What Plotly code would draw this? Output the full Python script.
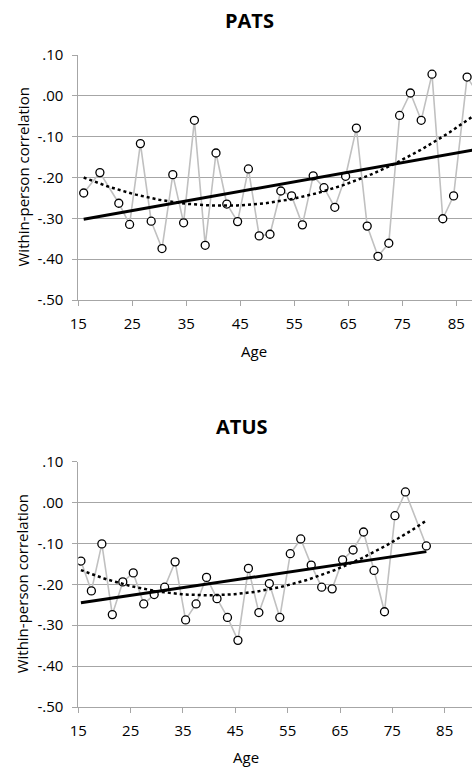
import numpy as np
import plotly.graph_objects as go

# ---------------- data ----------------
pats_age = [16, 19, 22.5, 24.5, 26.5, 28.5, 30.5, 32.5, 34.5, 36.5, 38.5, 40.5, 42.5, 44.5,
            46.5, 48.5, 50.5, 52.5, 54.5, 56.5, 58.5, 60.5, 62.5, 64.5, 66.5, 68.5, 70.5,
            72.5, 74.5, 76.5, 78.5, 80.5, 82.5, 84.5, 87, 89]
pats_r = [-0.238, -0.188, -0.263, -0.315, -0.117, -0.307, -0.374, -0.193, -0.311, -0.060,
          -0.366, -0.140, -0.265, -0.308, -0.179, -0.343, -0.339, -0.233, -0.245, -0.316,
          -0.196, -0.225, -0.273, -0.197, -0.079, -0.319, -0.393, -0.361, -0.048, 0.007,
          -0.060, 0.053, -0.301, -0.245, 0.046, 0.005]

atus_age = [15.5, 17.5, 19.5, 21.5, 23.5, 25.5, 27.5, 29.5, 31.5, 33.5, 35.5, 37.5, 39.5,
            41.5, 43.5, 45.5, 47.5, 49.5, 51.5, 53.5, 55.5, 57.5, 59.5, 61.5, 63.5, 65.5,
            67.5, 69.5, 71.5, 73.5, 75.5, 77.5, 81.5]
atus_r = [-0.143, -0.216, -0.101, -0.274, -0.194, -0.172, -0.248, -0.225, -0.207, -0.145,
          -0.287, -0.248, -0.183, -0.235, -0.281, -0.337, -0.161, -0.269, -0.198, -0.281,
          -0.125, -0.089, -0.153, -0.207, -0.211, -0.140, -0.116, -0.072, -0.166, -0.267,
          -0.032, 0.026, -0.106]

# trend lines
pats_lin_age = [16, 88]
pats_lin_r = [-0.302, -0.133]
pats_quad_age = [16, 25.5, 43, 54.5, 64.5, 74.5, 88]
pats_quad_r = [-0.200, -0.240, -0.272, -0.254, -0.215, -0.157, -0.053]

atus_lin_age = [15.5, 81.5]
atus_lin_r = [-0.245, -0.120]
atus_quad_age = [15.5, 25.5, 44, 63.6, 75.8, 81.3]
atus_quad_r = [-0.167, -0.202, -0.228, -0.165, -0.092, -0.045]

x_ticks = [15, 25, 35, 45, 55, 65, 75, 85]
y_ticks = [0.10, 0.00, -0.10, -0.20, -0.30, -0.40, -0.50]
y_tick_text = [".10", ".00", "-.10", "-.20", "-.30", "-.40", "-.50"]

titles = ["PATS", "ATUS"]

# ---------------- figure ----------------
W, H = 472, 769
FONT = "Open Sans"
GRID = "#a6a6a6"
SERIES = "#c0c0c0"

fig = go.Figure()


def quad_curve(ages, vals, x0, x1):
    c = np.polyfit(ages, vals, 2)
    xs = np.linspace(x0, x1, 120)
    return xs, np.polyval(c, xs)


panels = [
    dict(age=pats_age, r=pats_r, la=pats_lin_age, lr=pats_lin_r,
         qa=pats_quad_age, qr=pats_quad_r, xa="x", ya="y"),
    dict(age=atus_age, r=atus_r, la=atus_lin_age, lr=atus_lin_r,
         qa=atus_quad_age, qr=atus_quad_r, xa="x2", ya="y2"),
]

for p in panels:
    fig.add_trace(go.Scatter(x=p["age"], y=p["r"], mode="lines+markers",
                             line=dict(color=SERIES, width=1.6),
                             marker=dict(symbol="circle", size=8, color="white",
                                         line=dict(color="black", width=1.3)),
                             xaxis=p["xa"], yaxis=p["ya"], showlegend=False))
    fig.add_trace(go.Scatter(x=p["la"], y=p["lr"], mode="lines",
                             line=dict(color="black", width=3),
                             xaxis=p["xa"], yaxis=p["ya"], showlegend=False))
    qx, qy = quad_curve(p["qa"], p["qr"], p["qa"][0], p["qa"][-1])
    fig.add_trace(go.Scatter(x=qx, y=qy, mode="lines",
                             line=dict(color="black", width=2.5, dash="dot"),
                             xaxis=p["xa"], yaxis=p["ya"], showlegend=False))

# pixel geometry
left = 78.3
top_y0, top_y1 = 55, 300
bot_y0, bot_y1 = 461.7, 707
top_px_per_year = 5.4
bot_px_per_year = 5.234

xdom = [left / W, 1.0]

common_x = dict(tickvals=x_ticks, showline=True, linecolor=GRID, linewidth=1,
                ticks="outside", ticklen=5, tickcolor=GRID, showgrid=False,
                zeroline=False, automargin=False, ticklabelstandoff=5,
                tickfont=dict(family=FONT, size=15, color="black"))
common_y = dict(tickvals=y_ticks, ticktext=y_tick_text, showline=True, linecolor=GRID,
                linewidth=1, ticks="outside", ticklen=5, tickcolor=GRID, showgrid=True,
                gridcolor=GRID, gridwidth=1, zeroline=False, range=[-0.5, 0.1],
                automargin=False, ticklabelstandoff=6,
                tickfont=dict(family=FONT, size=15, color="black"))

fig.update_layout(
    template="none",
    width=W, height=H, margin=dict(l=0, r=0, t=0, b=0, pad=0),
    paper_bgcolor="white", plot_bgcolor="white",
    xaxis=dict(common_x, domain=xdom, anchor="y",
               range=[15, 15 + (W - left) / top_px_per_year]),
    yaxis=dict(common_y, domain=[1 - top_y1 / H, 1 - top_y0 / H], anchor="x"),
    xaxis2=dict(common_x, domain=xdom, anchor="y2",
                range=[15, 15 + (W - left) / bot_px_per_year]),
    yaxis2=dict(common_y, domain=[1 - bot_y1 / H, 1 - bot_y0 / H], anchor="x2"),
)

ann = []
for title, tx, ty in [(titles[0], 249, 21), (titles[1], 242, 426)]:
    ann.append(dict(text="<b>%s</b>" % title, x=tx / W, y=1 - ty / H, xref="paper",
                    yref="paper", showarrow=False, xanchor="center", yanchor="middle",
                    font=dict(family=FONT, size=20, color="black")))
for ay in [(top_y0 + top_y1) / 2, (bot_y0 + bot_y1) / 2]:
    ann.append(dict(text="Within-person correlation", x=22 / W, y=1 - ay / H,
                    xref="paper", yref="paper", showarrow=False, textangle=-90,
                    xanchor="center", yanchor="middle",
                    font=dict(family=FONT, size=15, color="black")))
for ax, ay in [(254, 351), (246, 757)]:
    ann.append(dict(text="Age", x=ax / W, y=1 - ay / H, xref="paper", yref="paper",
                    showarrow=False, xanchor="center", yanchor="middle",
                    font=dict(family=FONT, size=15, color="black")))
fig.update_layout(annotations=ann)

fig.write_html("out.html")
